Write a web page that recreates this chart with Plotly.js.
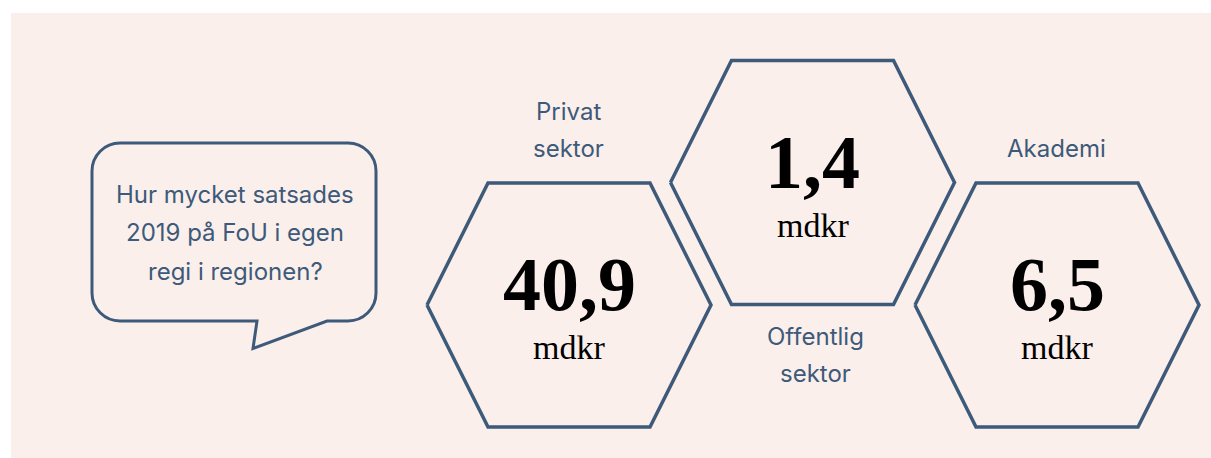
<!DOCTYPE html>
<html>
<head>
<meta charset="utf-8">
<script src="https://cdn.plot.ly/plotly-3.0.1.min.js"></script>
<style>html,body{margin:0;padding:0;background:#fff;}#chart{width:1211px;height:458px;}</style>
</head>
<body>
<div id="chart"></div>
<script>
// ---- data ----
const sectorLines = [["Privat", "sektor"], ["Offentlig", "sektor"], ["Akademi"]];
const values = [40.9, 1.4, 6.5];
const unit = "mdkr";
const questionLines = ["Hur mycket satsades", "2019 på FoU i egen", "regi i regionen?"];

// ---- layout / style ----
const W = 1211, H = 458;
const ink = "#3d5a7a";
const bg = "#fbefeb";
const hexCenters = [[569, 305], [812.5, 182.5], [1057, 305]];
const labelSide = ["above", "below", "above"];
const halfW = 142, topHalf = 81, halfH = 122;
const sansFont = "Inter, 'Open Sans', sans-serif";
const serifFont = "'Liberation Serif', 'Times New Roman', serif";
const sansSize = 24, numSize = 76, unitSize = 34;
const sansMid = 0.363, serifMid = 0.3375;

function fmt(v) { return v.toFixed(1).replace('.', ','); }

const traces = [];
const annotations = [];

hexCenters.forEach(function (c, i) {
  const cx = c[0], cy = c[1];
  traces.push({
    type: 'scatter', mode: 'lines', hoverinfo: 'skip', showlegend: false,
    x: [cx - halfW, cx - topHalf, cx + topHalf, cx + halfW, cx + topHalf, cx - topHalf, cx - halfW],
    y: [cy, cy - halfH, cy - halfH, cy, cy + halfH, cy + halfH, cy],
    line: {color: ink, width: 3.5, shape: 'linear'}
  });
  // value
  annotations.push({
    x: cx, y: cy + 5 - serifMid * numSize, xref: 'x', yref: 'y', showarrow: false,
    xanchor: 'center', yanchor: 'middle', text: '<b>' + fmt(values[i]) + '</b>',
    font: {family: serifFont, size: numSize, color: '#000'}
  });
  annotations.push({
    x: cx, y: cy + 54 - serifMid * unitSize, xref: 'x', yref: 'y', showarrow: false,
    xanchor: 'center', yanchor: 'middle', text: unit,
    font: {family: serifFont, size: unitSize, color: '#000'}
  });
  // sector label
  const lines = sectorLines[i];
  const gap = 36.5;
  lines.forEach(function (ln, k) {
    let base;
    if (labelSide[i] === 'above') {
      base = cy - halfH - 26 - (lines.length - 1 - k) * gap;
    } else {
      base = cy + halfH + 41 + k * gap;
    }
    annotations.push({
      x: cx + (labelSide[i] === 'below' ? 3 : -1), y: base - sansMid * sansSize, xref: 'x', yref: 'y', showarrow: false,
      xanchor: 'center', yanchor: 'middle', text: ln,
      font: {family: sansFont, size: sansSize, color: ink}
    });
  });
});

// speech bubble question text
const qBase = [203, 241.7, 280.4];
questionLines.forEach(function (ln, k) {
  annotations.push({
    x: 235, y: qBase[k] - sansMid * sansSize, xref: 'x', yref: 'y', showarrow: false,
    xanchor: 'center', yanchor: 'middle', text: ln,
    font: {family: sansFont, size: sansSize, color: ink}
  });
});

// bubble path (rounded rect with tail)
const bx0 = 92, bx1 = 376, by0 = 143, by1 = 321, r = 28, k = 0.5523 * r;
const bubble = [
  'M', bx0 + r, by0,
  'L', bx1 - r, by0,
  'C', bx1 - r + k, by0, bx1, by0 + r - k, bx1, by0 + r,
  'L', bx1, by1 - r,
  'C', bx1, by1 - r + k, bx1 - r + k, by1, bx1 - r, by1,
  'L', 327, by1,
  'L', 253, 348.5,
  'L', 257, by1,
  'L', bx0 + r, by1,
  'C', bx0 + r - k, by1, bx0, by1 - r + k, bx0, by1 - r,
  'L', bx0, by0 + r,
  'C', bx0, by0 + r - k, bx0 + r - k, by0, bx0 + r, by0,
  'Z'
].join(' ');

const layout = {
  width: W, height: H,
  margin: {l: 0, r: 0, t: 0, b: 0, pad: 0},
  paper_bgcolor: '#ffffff', plot_bgcolor: 'rgba(0,0,0,0)',
  showlegend: false,
  xaxis: {range: [0, W], visible: false, fixedrange: true},
  yaxis: {range: [H, 0], visible: false, fixedrange: true},
  shapes: [
    {type: 'rect', xref: 'x', yref: 'y', x0: 11, x1: W + 2, y0: 13, y1: H + 2,
     fillcolor: bg, line: {width: 0}, layer: 'below'},
    {type: 'path', xref: 'x', yref: 'y', path: bubble,
     line: {color: ink, width: 3}, fillcolor: 'rgba(0,0,0,0)', layer: 'above'}
  ],
  annotations: annotations
};

Plotly.newPlot('chart', traces, layout, {staticPlot: true, displayModeBar: false});
</script>
</body>
</html>
